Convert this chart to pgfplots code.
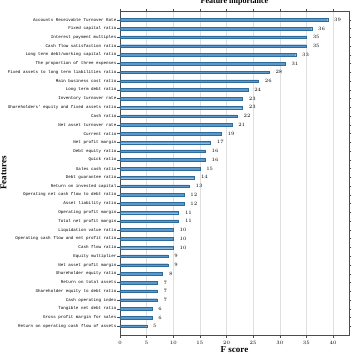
\documentclass[border=0pt]{standalone}
\usepackage{pgfplots}
\pgfplotsset{compat=1.18}
\usetikzlibrary{calc}
\usepackage{fontspec}
\setmainfont{Liberation Serif}
\newfontfamily\monofont{Liberation Mono}
\definecolor{barfill}{HTML}{5B98CB}
\definecolor{baredge}{HTML}{2E6C9C}
\begin{document}
\begin{tikzpicture}
\begin{axis}[
  scale only axis, width=229pt, height=324pt,
  xmin=0, xmax=43, ymin=-1, ymax=36,
  y dir=reverse,
  xbar, bar width=2.6pt, bar shift=0pt,
  ytick={0,...,35},
  yticklabels={
    {Accounts Receivable Turnover Rate},
    {Fixed capital ratio},
    {Interest payment multiples},
    {Cash flow satisfaction ratio},
    {Long term debt/working capital ratio},
    {The proportion of three expenses},
    {Fixed assets to long term liabilities ratio},
    {Main business cost ratio},
    {Long term debt ratio},
    {Inventory turnover rate},
    {Shareholders' equity and fixed assets ratio},
    {Cash ratio},
    {Net asset turnover rate},
    {Current ratio},
    {Net profit margin},
    {Debt equity ratio},
    {Quick ratio},
    {Sales cash ratio},
    {Debt guarantee ratio},
    {Return on invested capital},
    {Operating net cash flow to debt ratio},
    {Asset liability ratio},
    {Operating profit margin},
    {Total net profit margin},
    {Liquidation value ratio},
    {Operating cash flow and net profit ratio},
    {Cash flow ratio},
    {Equity multiplier},
    {Net asset profit margin},
    {Shareholder equity ratio},
    {Return on total assets},
    {Shareholder equity to debt ratio},
    {Cash operating index},
    {Tangible net debt ratio},
    {Gross profit margin for sales},
    {Return on operating cash flow of assets}},
  xtick={0,5,...,40},
  xmajorgrids, grid style={gray!25, line width=0.5pt},
  tick align=outside, major tick length=2.5pt,
  tick style={black!70, line width=0.4pt},
  axis line style={black!70, line width=0.6pt},
  yticklabel style={font=\monofont\fontsize{4.2}{5}\selectfont, inner sep=1pt},
  xticklabel style={font=\fontsize{4}{5}\selectfont},
  nodes near coords,
  nodes near coords style={font=\fontsize{4.2}{5}\selectfont, anchor=west, xshift=3pt},
  title={Feature importance},
  title style={at={(0.5,1)}, anchor=base, yshift=1.5pt, inner sep=0pt, font=\bfseries\fontsize{8}{10}\selectfont},
  xlabel={F score},
  xlabel style={at={(0.5,0)}, anchor=base, yshift=-17pt, font=\bfseries\fontsize{9}{10}\selectfont},
  ylabel={Features},
  ylabel style={at={(axis description cs:0,0.5)}, anchor=south, yshift=110pt, font=\bfseries\fontsize{9}{10}\selectfont},
]
\addplot[draw=baredge, fill=barfill, line width=0.25pt] coordinates {
(39,0) (36,1) (35,2) (35,3) (33,4) (31,5) (28,6) (26,7) (24,8) (23,9)
(23,10) (22,11) (21,12) (19,13) (17,14) (16,15) (16,16) (15,17) (14,18) (13,19)
(12,20) (12,21) (11,22) (11,23) (10,24) (10,25) (10,26) (9,27) (9,28) (8,29)
(7,30) (7,31) (7,32) (6,33) (6,34) (5,35)
};
\end{axis}
\pgfresetboundingbox
\path[use as bounding box] ($(current axis.south west)+(-120pt,-19pt)$) rectangle ($(current axis.north east)+(7pt,11pt)$);
\end{tikzpicture}
\end{document}
